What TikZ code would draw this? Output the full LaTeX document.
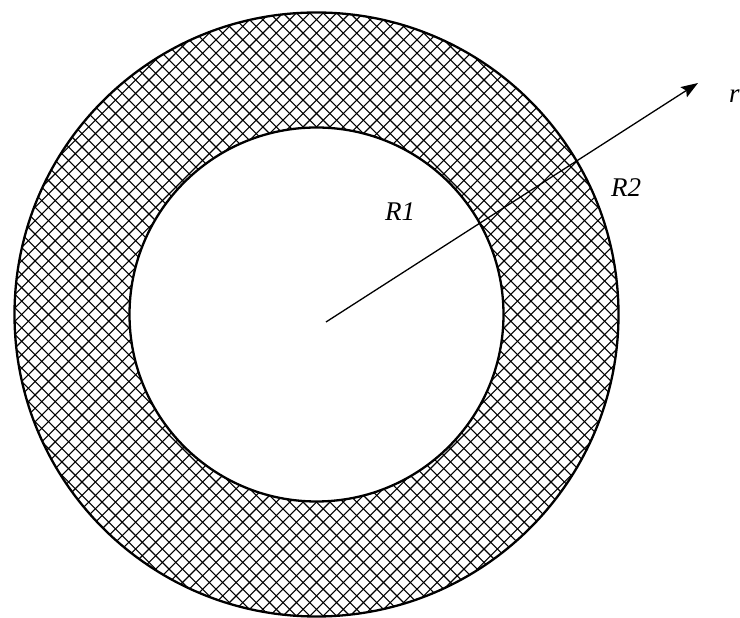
\documentclass[tikz,border=0pt]{standalone}
\usepackage{fontspec}
\setmainfont{Liberation Serif}
\usetikzlibrary{arrows.meta,calc}
\begin{document}
\begin{tikzpicture}[x=1pt,y=1pt,
  ring/.style={line width=2.3pt},
  hatch/.style={line width=1.1pt, black},
  radius arrow/.style={line width=1.3pt, -{Stealth[length=17pt,width=12pt,inset=3pt]}},
  lab/.style={font=\itshape\fontsize{27}{27}\selectfont, inner sep=0pt}]
\useasboundingbox (0,0) rectangle (740,618);
\coordinate (c) at (316.5,303.5);
\begin{scope}[even odd rule]
  \clip (c) circle[radius=302] (c) circle[radius=187];
  \foreach \i in {-80,...,80}{
    \draw[hatch] ($(c)+(\i*13.4-400,-400)$) -- ++(800,800);
    \draw[hatch] ($(c)+(\i*13.4+400,-400)$) -- ++(-800,800);
  }
\end{scope}
\draw[ring] (c) circle[radius=302];
\draw[ring] (c) circle[radius=187];
\coordinate (o) at (326,296);
\coordinate (tip) at (698,535);
\draw[radius arrow] (o) -- (tip);
\node[lab] (r1) at (400,406) {R1};
\node[lab] (r2) at (626,430) {R2};
\node[lab,anchor=west] (rr) at (729,522) {r};
\end{tikzpicture}
\end{document}
